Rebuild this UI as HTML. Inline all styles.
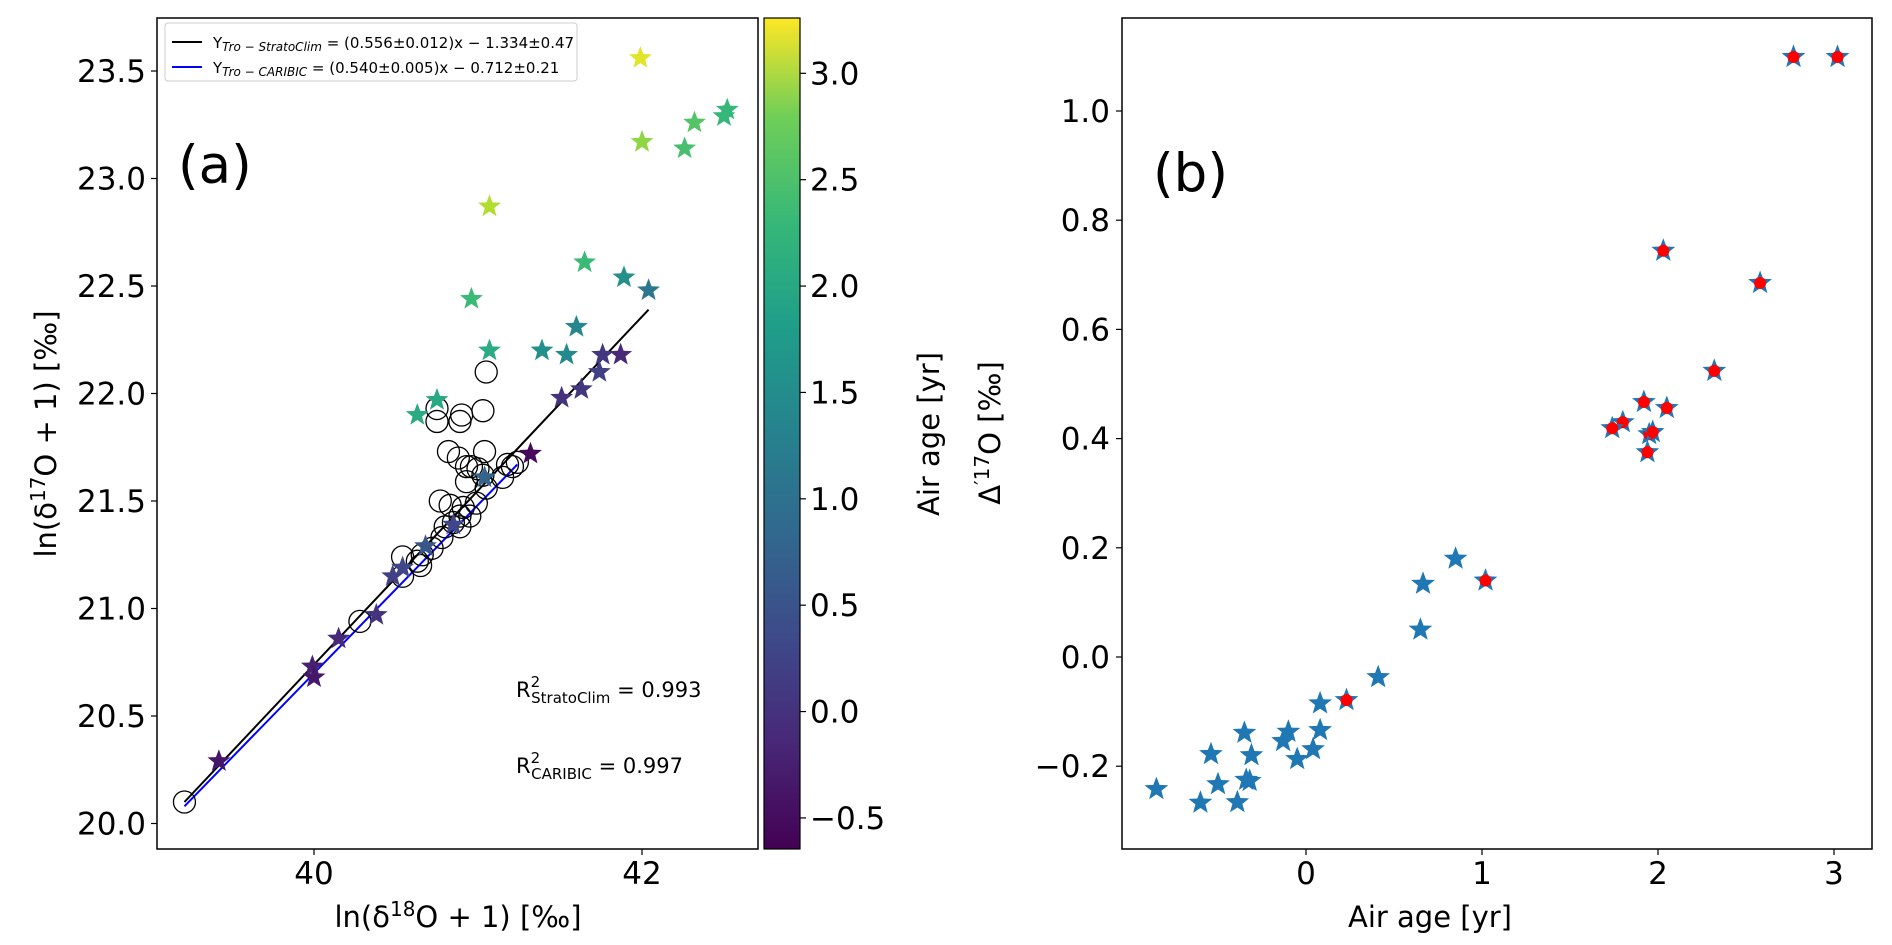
<!DOCTYPE html>
<html><head><meta charset="utf-8"><style>
html,body{margin:0;padding:0;background:#fff;}
svg{display:block;font-family:"DejaVu Sans","Liberation Sans",sans-serif;}
</style></head><body>
<svg id="fig" width="1892" height="945" viewBox="0 0 1892 945" xmlns="http://www.w3.org/2000/svg">
<defs>
<linearGradient id="vir" x1="0" y1="1" x2="0" y2="0">
<stop offset="0" stop-color="#440154"/><stop offset="0.13" stop-color="#482878"/><stop offset="0.25" stop-color="#3e4989"/><stop offset="0.38" stop-color="#31688e"/><stop offset="0.5" stop-color="#26828e"/><stop offset="0.63" stop-color="#1f9e89"/><stop offset="0.75" stop-color="#35b779"/><stop offset="0.88" stop-color="#6ece58"/><stop offset="1" stop-color="#fde725"/>
</linearGradient>
</defs>
<g id="pa"></g>
<g id="cb"></g>
<g id="pb"></g>
</svg>
<script>
// Panel (a) data
const aStarX = [41.99,42.0,42.32,42.50,42.52,42.26,41.07,41.65,41.89,42.04,40.96,41.60,41.07,41.39,41.54,41.76,41.74,41.87,41.63,41.51,40.75,40.63,41.32,41.04,40.85,40.68,40.54,40.48,40.38,40.15,39.99,40.0,39.42];
const aStarY = [23.56,23.17,23.26,23.29,23.32,23.14,22.87,22.61,22.54,22.48,22.44,22.31,22.20,22.20,22.18,22.18,22.10,22.18,22.02,21.98,21.97,21.90,21.72,21.61,21.39,21.29,21.19,21.15,20.97,20.86,20.73,20.68,20.29];
const aStarAge = [3.1,2.6,2.2,1.95,1.95,2.1,2.8,2.0,1.3,0.9,2.0,1.15,1.75,1.3,1.2,0.0,0.1,-0.2,0.0,-0.1,1.7,1.75,-0.55,0.6,0.2,0.4,0.2,0.1,-0.05,-0.2,-0.3,-0.4,-0.4];
const aCircX = [41.05,41.03,40.90,40.89,40.75,40.75,40.82,40.88,41.04,40.93,40.96,41.00,40.93,41.03,41.18,41.21,41.24,41.15,41.05,40.77,40.83,40.91,40.99,40.95,40.89,40.85,40.80,40.89,40.78,40.72,40.66,40.63,40.65,40.54,40.54,40.28,39.21];
const aCircY = [22.10,21.92,21.90,21.87,21.93,21.87,21.73,21.70,21.73,21.66,21.66,21.65,21.59,21.62,21.67,21.66,21.68,21.61,21.56,21.50,21.48,21.47,21.49,21.43,21.43,21.40,21.38,21.38,21.33,21.28,21.25,21.22,21.20,21.24,21.15,20.94,20.10];
const fitBlackX = [39.21,42.04], fitBlackY = [20.10,22.39];
const fitBlueX = [39.21,41.24], fitBlueY = [20.08,21.67];
const aXTicks = [40,42], aYTicks = [20.0,20.5,21.0,21.5,22.0,22.5,23.0,23.5];
// Colorbar
const cbTicks = [-0.5,0.0,0.5,1.0,1.5,2.0,2.5,3.0];
const cbMin = -0.646, cbMax = 3.26;
// Panel (b) data
const bAge = [2.77,3.02,2.03,2.58,2.32,1.92,2.05,1.80,1.74,1.95,1.97,1.94,0.85,0.665,1.02,0.65,0.41,0.23,0.08,0.08,0.04,-0.05,-0.10,-0.13,-0.35,-0.31,-0.32,-0.34,-0.54,-0.50,-0.39,-0.60,-0.85];
const bD17 = [1.099,1.099,0.744,0.685,0.524,0.467,0.456,0.43,0.419,0.408,0.412,0.375,0.18,0.134,0.14,0.05,-0.037,-0.079,-0.085,-0.134,-0.169,-0.187,-0.137,-0.154,-0.139,-0.18,-0.227,-0.225,-0.178,-0.233,-0.266,-0.267,-0.242];
const bRed = [1,1,1,1,1,1,1,1,1,1,1,1,0,0,1,0,0,1,0,0,0,0,0,0,0,0,0,0,0,0,0,0,0];
const bXTicks = [0,1,2,3], bYTicks = [-0.2,0.0,0.2,0.4,0.6,0.8,1.0];

const NS='http://www.w3.org/2000/svg';
function mk(parent,tag,attrs,text){const e=document.createElementNS(NS,tag);for(const k in attrs)e.setAttribute(k,attrs[k]);if(text!==undefined)e.textContent=text;parent.appendChild(e);return e;}
function starPts(cx,cy,R){const r=R*0.42;let p=[];for(let i=0;i<10;i++){const a=-Math.PI/2+i*Math.PI/5;const rr=i%2?r:R;p.push((cx+rr*Math.cos(a)).toFixed(1)+','+(cy+rr*Math.sin(a)).toFixed(1));}return p.join(' ');}
const VIR=[[68,1,84],[72,40,120],[62,73,137],[49,104,142],[38,130,142],[31,158,137],[53,183,121],[110,206,88],[181,222,43],[253,231,37]];
function viridis(t){t=Math.max(0,Math.min(1,t));const f=t*(VIR.length-1);const i=Math.min(Math.floor(f),VIR.length-2);const u=f-i;const c=VIR[i].map((v,k)=>Math.round(v+(VIR[i+1][k]-v)*u));return 'rgb('+c.join(',')+')';}
function fmtMinus(s){return s.replace('-','\u2212');}

// ---- Panel A ----
const pa=document.getElementById('pa');
const ax=v=>314+(v-40)*164, ay=v=>823.5-(v-20)*215;
let el=mk(pa,'rect',{x:157,y:18,width:601,height:831,fill:'none',stroke:'#000','stroke-width':1.5});


aYTicks.forEach(t=>{mk(pa,'line',{x1:151,x2:157,y1:ay(t),y2:ay(t),stroke:'#000','stroke-width':1.2});
 el=mk(pa,'text',{x:146,y:ay(t)+11,'text-anchor':'end','font-size':31},t.toFixed(1));
 
 });
aXTicks.forEach(t=>{mk(pa,'line',{x1:ax(t),x2:ax(t),y1:849,y2:855,stroke:'#000','stroke-width':1.2});
 el=mk(pa,'text',{x:ax(t),y:884,'text-anchor':'middle','font-size':31},String(t));
 
 });
el=mk(pa,'line',{x1:ax(fitBlackX[0]),y1:ay(fitBlackY[0]),x2:ax(fitBlackX[1]),y2:ay(fitBlackY[1]),stroke:'#000','stroke-width':2});


el=mk(pa,'line',{x1:ax(fitBlueX[0]),y1:ay(fitBlueY[0]),x2:ax(fitBlueX[1]),y2:ay(fitBlueY[1]),stroke:'#0000ff','stroke-width':2});


aCircX.forEach((x,i)=>{el=mk(pa,'ellipse',{cx:ax(x),cy:ay(aCircY[i]),rx:11,ry:11,fill:'none',stroke:'#000','stroke-width':1.3});
 
 });
aStarX.forEach((x,i)=>{el=mk(pa,'polygon',{points:starPts(ax(x),ay(aStarY[i]),12),fill:viridis((aStarAge[i]-cbMin)/(cbMax-cbMin))});
 
 });
// legend
const lg=mk(pa,'g',{});


mk(lg,'rect',{x:165,y:23,width:412,height:58,rx:3,fill:'#fff',stroke:'#ccc','stroke-width':1});
mk(lg,'line',{x1:172,x2:202,y1:42,y2:42,stroke:'#000','stroke-width':2});
mk(lg,'line',{x1:172,x2:202,y1:67,y2:67,stroke:'#00f','stroke-width':2});
el=mk(lg,'text',{x:213,y:48,'font-size':15});
el.innerHTML='Y<tspan font-style="italic" font-size="12" dy="3">Tro − StratoClim</tspan><tspan dy="-3"> = (0.556±0.012)x − 1.334±0.47</tspan>';


el=mk(lg,'text',{x:213,y:73,'font-size':15});
el.innerHTML='Y<tspan font-style="italic" font-size="12" dy="3">Tro − CARIBIC</tspan><tspan dy="-3"> = (0.540±0.005)x − 0.712±0.21</tspan>';


el=mk(pa,'text',{x:178,y:183,'font-size':53},'(a)');


el=mk(pa,'text',{x:516,y:697,'font-size':21});
el.innerHTML='R<tspan font-size="15" dy="-10">2</tspan><tspan font-size="15" dx="-9" dy="16">StratoClim</tspan><tspan dy="-6"> = 0.993</tspan>';


el=mk(pa,'text',{x:516,y:773,'font-size':21});
el.innerHTML='R<tspan font-size="15" dy="-10">2</tspan><tspan font-size="15" dx="-9" dy="16">CARIBIC</tspan><tspan dy="-6"> = 0.997</tspan>';


el=mk(pa,'text',{x:56,y:434,'font-size':29,'text-anchor':'middle',transform:'rotate(-90 56 434)'});
el.innerHTML='ln(δ<tspan font-size="20" dy="-11">17</tspan><tspan dy="11">O + 1) [‰]</tspan>';


el=mk(pa,'text',{x:458,y:927,'font-size':29,'text-anchor':'middle'});
el.innerHTML='ln(δ<tspan font-size="20" dy="-11">18</tspan><tspan dy="11">O + 1) [‰]</tspan>';



// ---- Colorbar ----
const cb=document.getElementById('cb');
const cy=v=>849-(v-cbMin)/(cbMax-cbMin)*831;
el=mk(cb,'rect',{x:764,y:18,width:36,height:831,fill:'url(#vir)',stroke:'#000','stroke-width':1.2});


cbTicks.forEach(t=>{mk(cb,'line',{x1:800,x2:806,y1:cy(t),y2:cy(t),stroke:'#000','stroke-width':1.2});
 el=mk(cb,'text',{x:810,y:cy(t)+11,'font-size':31},fmtMinus(t.toFixed(1)));
 
 });
el=mk(cb,'text',{x:939,y:434,'font-size':29,'text-anchor':'middle',transform:'rotate(-90 939 434)'},'Air age [yr]');



// ---- Panel B ----
const pb=document.getElementById('pb');
const bx=v=>1306+v*176, by=v=>657-v*546;
el=mk(pb,'rect',{x:1122,y:18,width:750,height:831,fill:'none',stroke:'#000','stroke-width':1.5});


bYTicks.forEach(t=>{mk(pb,'line',{x1:1116,x2:1122,y1:by(t),y2:by(t),stroke:'#000','stroke-width':1.2});
 el=mk(pb,'text',{x:1110,y:by(t)+11,'text-anchor':'end','font-size':31},fmtMinus(t.toFixed(1)));
 
 });
bXTicks.forEach(t=>{mk(pb,'line',{x1:bx(t),x2:bx(t),y1:849,y2:855,stroke:'#000','stroke-width':1.2});
 el=mk(pb,'text',{x:bx(t),y:884,'text-anchor':'middle','font-size':31},String(t));
 
 });
bAge.forEach((x,i)=>{el=mk(pb,'polygon',{points:starPts(bx(x),by(bD17[i]),12.5),fill:'#1f77b4'});
 
 
 if(bRed[i]){el=mk(pb,'circle',{cx:bx(x),cy:by(bD17[i]),r:6,fill:'#ff0000'});
 
 }});
el=mk(pb,'text',{x:1153,y:191,'font-size':53},'(b)');


el=mk(pb,'text',{x:1000,y:433,'font-size':29,'text-anchor':'middle',transform:'rotate(-90 1000 433)'});
el.innerHTML='Δ<tspan font-size="20" dy="-11">′17</tspan><tspan dy="11">O [‰]</tspan>';


el=mk(pb,'text',{x:1430,y:927,'font-size':29,'text-anchor':'middle'},'Air age [yr]');


</script>
</body></html>
